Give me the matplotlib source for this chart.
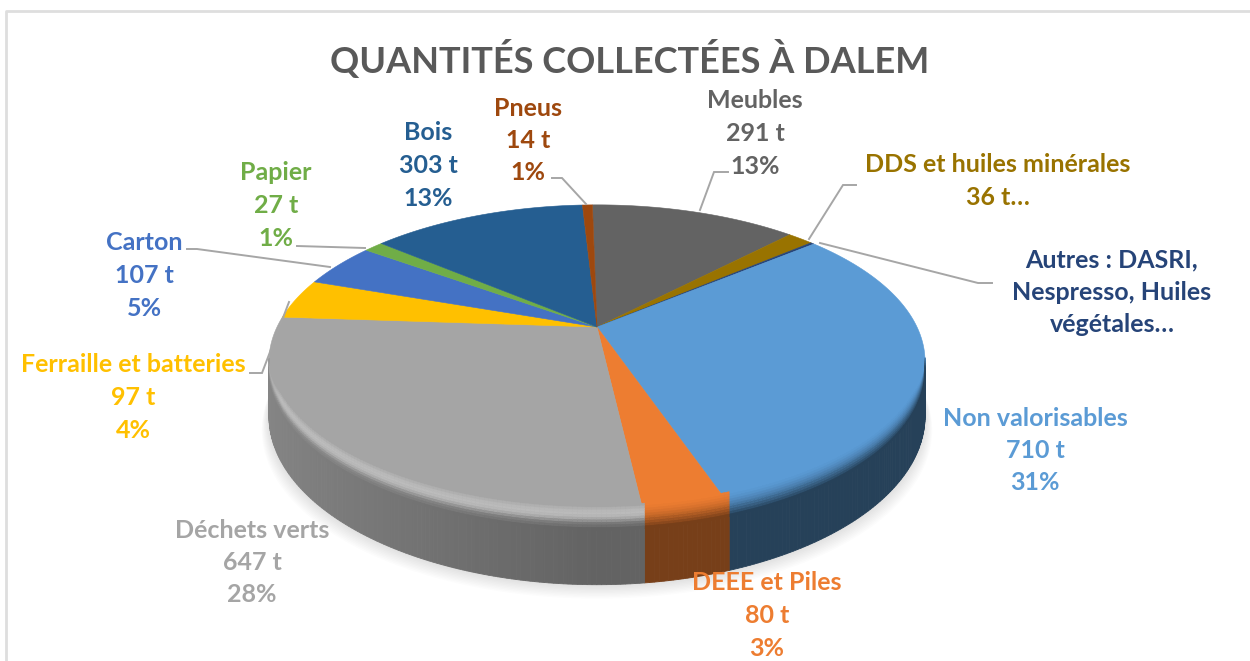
import numpy as np
import matplotlib
matplotlib.use('Agg')
import matplotlib.pyplot as plt
from matplotlib.colors import to_rgb

# clockwise from the top of the pie
categories = ['Meubles', 'DDS et huiles minérales', 'Autres', 'Non valorisables', 'DEEE et Piles',
              'Déchets verts', 'Ferraille et batteries', 'Carton', 'Papier', 'Bois', 'Pneus']
tonnes = [291, 36, 5, 710, 80, 647, 97, 107, 27, 303, 14]
percents = [13, 2, 0, 31, 3, 28, 4, 5, 1, 13, 1]
colors = ['#636363', '#997300', '#264478', '#5B9BD5', '#ED7D31', '#A5A5A5',
          '#FFC000', '#4472C4', '#70AD47', '#255E91', '#9E480E']

label_lines = [
    ['Meubles', '291 t', '13%'],
    ['DDS et huiles minérales', '36 t…'],
    ['Autres : DASRI,', 'Nespresso, Huiles', 'végétales…'],
    ['Non valorisables', '710 t', '31%'],
    ['DEEE et Piles', '80 t', '3%'],
    ['Déchets verts', '647 t', '28%'],
    ['Ferraille et batteries', '97 t', '4%'],
    ['Carton', '107 t', '5%'],
    ['Papier', '27 t', '1%'],
    ['Bois', '303 t', '13%'],
    ['Pneus', '14 t', '1%'],
]
label_pos = [(755, 101), (998, 165), (1112, 260), (1035, 418), (767, 583), (252, 530),
             (133, 365), (144, 243), (276, 173), (428, 133), (528, 108)]
leaders = [
    [(728, 172), (714, 172), (700, 210)],
    [(856, 185), (843, 185), (809, 239)],
    [(992, 283), (978, 283), (820, 243)],
    [(250, 373), (262, 373), (289, 302)],
    [(187, 249), (197, 249), (330, 267)],
    [(297, 246), (365, 248)],
    [(552, 178), (562, 178), (586, 204)],
]
side_shade = [0.5, 0.5, 0.5, 0.42, 0.5, 0.6, 0.6, 0.5, 0.5, 0.5, 0.5]

# pie geometry in pixels, k gives the perspective
cx, cy = 597, 327
rx, ry = 320, 149
k = 0.22
depth = 52

plt.rcParams['font.family'] = ['Lato', 'DejaVu Sans']


def project(theta):
    t = np.radians(theta)
    w = 1 + k*np.sin(t)
    return cx + rx*np.cos(t)/w, cy - ry*np.sin(t)/w, depth/w


def blend(a, b, f):
    return tuple((1 - f)*np.array(a) + f*np.array(b))


fig = plt.figure(figsize=(12.5, 6.61), dpi=100)
ax = fig.add_axes([0, 0, 1, 1])
wedges, _ = ax.pie(tonnes, startangle=91, counterclock=False, radius=1)
angles = [(w.theta1, w.theta2) for w in wedges]
for w in wedges:
    w.remove()
ax.set_aspect('auto')
ax.set_xlim(0, 1250)
ax.set_ylim(661, 0)
ax.axis('off')

# frame
ax.plot([6, 6, 1250], [661, 11, 11], color='#dedede', lw=2, zorder=1)

# soft shadow under the pie
th = np.linspace(0, 360, 361)
X, Y, D = project(th)
for grow in range(1, 11):
    ax.fill(cx + (X - cx)*(1 + grow*0.0022), Y + D + grow*1.4, color='#000000', alpha=0.012, lw=0, zorder=2)

# side wall, strips along the arc
for (t1, t2), col, shade in zip(angles, colors, side_shade):
    base = to_rgb(col)
    n = max(int((t2 - t1)*1.5), 2)
    edges = np.linspace(t1, t2, n + 1)
    for a, b in zip(edges[:-1], edges[1:]):
        mid = np.radians((a + b)/2)
        if np.sin(mid) > -k + 0.02:
            continue
        f = shade*(1 + 0.36*max(-np.cos(mid), 0))
        side = tuple(np.array(base)*f)
        xa, ya, da = project(a)
        xb, yb, db = project(b)
        ax.fill([xa, xb, xb, xa], [ya, yb, yb + db, ya + da], color=side, lw=0.6, zorder=3)

# top surface
for (t1, t2), col in zip(angles, colors):
    arc = np.linspace(t1, t2, max(int(t2 - t1)*2, 3))
    xs, ys, _ = project(arc)
    ax.fill(np.r_[cx, xs], np.r_[cy, ys], color=col, lw=0.4, zorder=4)

# bevel between top and wall
bands = np.linspace(-0.2, 0.18, 11)
for (t1, t2), col, shade in zip(angles, colors, side_shade):
    base = to_rgb(col)
    grey = shade == 0.6
    n = max(int((t2 - t1)*1.5), 2)
    edges = np.linspace(t1, t2, n + 1)
    for a, b in zip(edges[:-1], edges[1:]):
        mid = np.radians((a + b)/2)
        if np.sin(mid) > -k + 0.02:
            continue
        f = shade*(1 + 0.36*max(-np.cos(mid), 0))
        side = tuple(np.array(base)*f)
        fade = max(min((-np.sin(mid) - k)/0.25, 1), 0)
        xa, ya, da = project(a)
        xb, yb, db = project(b)
        for j, (u, v) in enumerate(zip(bands[:-1], bands[1:])):
            s = j/(len(bands) - 2)
            c = blend(base, side, s**1.6)
            if grey:
                c = blend(c, (0.84, 0.84, 0.84), fade*0.55*np.sin(np.pi*min(s*1.35, 1)))
            # keep the band inside the top outline near the silhouette
            u2 = u*fade if u < 0 else u
            v2 = v*fade if v < 0 else v
            ax.fill([xa, xb, xb, xa], [ya + u2*da, yb + u2*db, yb + v2*db, ya + v2*da],
                    color=c, lw=0.3, zorder=5)

# leader lines
for pts in leaders:
    ax.plot([p[0] for p in pts], [p[1] for p in pts], color='#a6a6a6', lw=1.4, zorder=6,
            solid_joinstyle='miter')

# labels
for lines, (x, y), col in zip(label_lines, label_pos, colors):
    for i, line in enumerate(lines):
        ax.text(x, y + i*32.5, line, color=col, fontsize=18, fontweight='bold',
                ha='center', va='center', zorder=7)

ax.text(630, 59, 'QUANTITÉS COLLECTÉES À DALEM', color='#595959', fontsize=26,
        fontweight='bold', ha='center', va='center', zorder=7)

fig.savefig('out.png', dpi=100, facecolor='white')
